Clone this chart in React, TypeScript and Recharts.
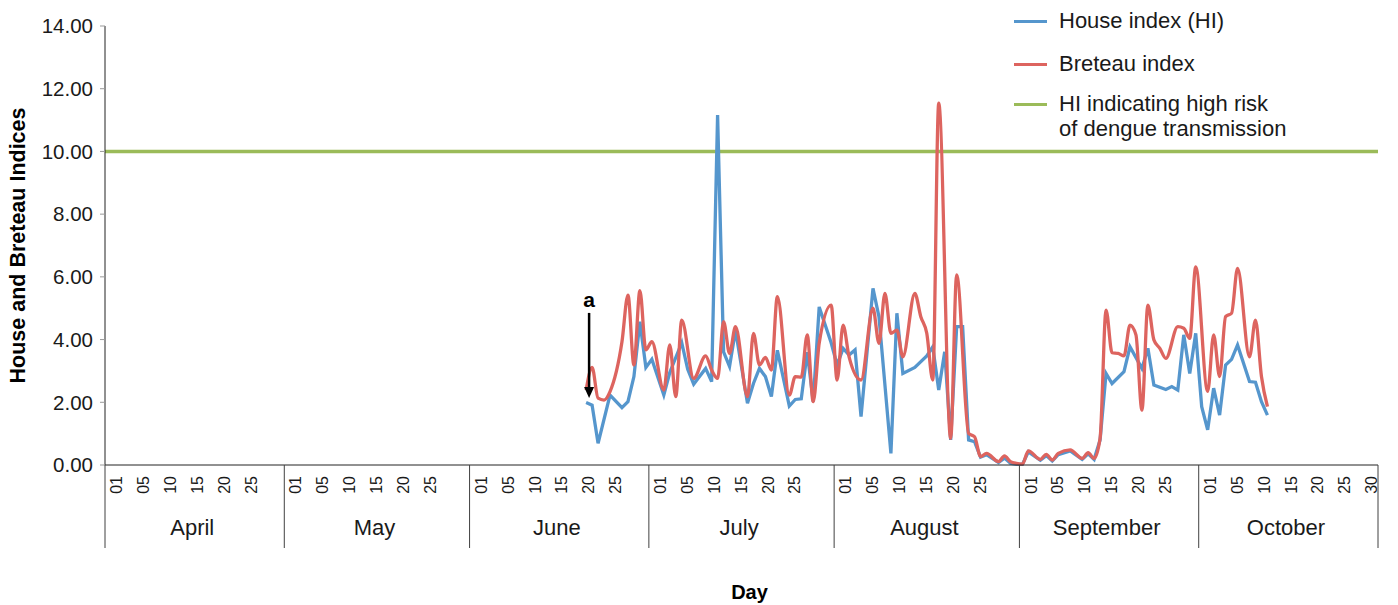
import { LineChart, Line, XAxis, YAxis, ReferenceLine, Legend } from 'recharts'

// season axis: April 01 .. October 30, one category per day
const months = ['April', 'May', 'June', 'July', 'August', 'September', 'October']
const monthLengths = [30, 31, 30, 31, 31, 30, 30]
const dayLabels = ['01', '05', '10', '15', '20', '25', '30']
const dayLabelCounts = [6, 6, 6, 6, 6, 6, 7]
const yTicks = [0, 2, 4, 6, 8, 10, 12, 14]
const highRiskHI = 10

// survey dates (MM-DD) and the two indices
const sampleDates = [
  '06-20', '06-21', '06-22', '06-23', '06-24', '06-26', '06-27', '06-28', '06-29', '06-30',
  '07-01', '07-03', '07-04', '07-05', '07-06', '07-07', '07-08', '07-10', '07-11', '07-12',
  '07-13', '07-14', '07-15', '07-17', '07-18', '07-19', '07-20', '07-21', '07-22', '07-24',
  '07-25', '07-26', '07-27', '07-28', '07-29', '07-31', '08-01', '08-02', '08-03', '08-04',
  '08-05', '08-07', '08-08', '08-09', '08-10', '08-11', '08-12', '08-14', '08-15', '08-16',
  '08-17', '08-18', '08-19', '08-20', '08-21', '08-22', '08-23', '08-24', '08-25', '08-26',
  '08-28', '08-29', '08-30', '08-31', '09-01', '09-02', '09-04', '09-05', '09-06', '09-07',
  '09-09', '09-11', '09-12', '09-13', '09-14', '09-15', '09-16', '09-17', '09-18', '09-19',
  '09-20', '09-21', '09-22', '09-23', '09-24', '09-25', '09-26', '09-27', '09-28', '09-29',
  '09-30', '10-01', '10-02', '10-03', '10-04', '10-05', '10-06', '10-07', '10-09', '10-10',
  '10-11', '10-12',
]

const houseIndex = [
  1.99, 1.91, 0.69, null, 2.23, 1.83, 2.02, 2.82, 4.57, 3.11,
  3.37, 2.23, 2.95, null, 3.9, 3.05, 2.58, 3.08, 2.66, 11.16,
  3.61, 3.14, 4.3, 1.97, 2.6, 3.08, 2.82, 2.18, 3.66, 1.88,
  2.09, 2.11, 3.6, 2.02, 5.04, 3.9, 3.19, 3.72, 3.51, 3.67,
  1.54, 5.63, 4.73, null, 0.37, 4.84, 2.92, 3.11, null, 3.48,
  3.77, 2.39, 3.61, 0.8, 4.41, 4.41, 0.8, 0.74, 0.25, 0.33,
  0.08, 0.22, 0.06, 0.02, 0.02, 0.42, 0.15, 0.3, 0.13, 0.33,
  0.45, 0.18, 0.36, 0.18, 0.8, 2.92, 2.6, null, 2.98, 3.77,
  null, 3.08, 3.72, 2.55, null, 2.41, 2.5, 2.39, 4.15, 2.92,
  4.2, 1.86, 1.12, 2.45, 1.59, 3.19, 3.37, 3.83, 2.66, 2.64,
  2.02, 1.59,
]

const breteauIndex = [
  2.39, 3.11, 2.13, 2.07, 2.34, 3.93, 5.42, 3.19, 5.56, 3.67,
  3.93, 2.39, 3.83, 2.18, 4.62, null, 2.76, 3.48, 3.03, 2.76,
  4.57, 3.56, 4.41, 2.18, 4.2, 3.19, 3.43, 3.03, 5.37, 2.23,
  2.82, 2.8, 4.15, 2.02, 3.88, 5.1, 2.71, 4.46, 3.45, null,
  2.71, 5.0, 3.88, 5.47, 4.2, 4.3, 3.45, 5.47, 4.73, 4.2,
  2.71, 11.54, null, 0.85, 6.06, null, 1.01, 0.9, 0.27, 0.37,
  0.11, 0.29, 0.11, 0.05, 0.03, 0.45, 0.18, 0.34, 0.16, 0.37,
  0.48, 0.21, 0.39, 0.21, 0.85, 4.94, 3.58, 3.56, 3.48, 4.46,
  4.15, 1.75, 5.1, 3.99, 3.72, 3.4, null, 4.41, 4.36, 4.04,
  6.32, null, 2.35, 4.15, 2.82, 4.73, 4.84, 6.27, 3.45, 4.62,
  2.82, 1.86,
]

const legendItems = [
  { lines: ['House index (HI)'], color: '#5596cd', top: 7 },
  { lines: ['Breteau index'], color: '#dd645f', top: 50 },
  { lines: ['HI indicating high risk', 'of dengue transmission'], color: '#9bbb59', top: 90 },
]

const FONT = '"Liberation Sans", Arial, sans-serif'
const BLUE = '#5596cd'
const RED = '#dd645f'
const GREEN = '#9bbb59'
const INK = '#1a1a1a'

const monthStarts = monthLengths.map((_, i) => monthLengths.slice(0, i).reduce((a, b) => a + b, 0))
const totalDays = monthLengths.reduce((a, b) => a + b, 0)

const dayPos = (date: string) => {
  const [m, d] = date.split('-').map(Number)
  return monthStarts[m - 4] + d - 0.5
}

const chartData = sampleDates.map((d, i) => ({
  x: dayPos(d),
  hi: houseIndex[i],
  bi: breteauIndex[i],
}))

// x ticks: month edges, month names and the evenly spread day labels
type TickInfo = { kind: 'edge' | 'month' | 'day'; text?: string }
const tickInfo = new Map<number, TickInfo>()
monthStarts.forEach((start, m) => {
  tickInfo.set(start, { kind: 'edge' })
  tickInfo.set(start + monthLengths[m] / 2 - 0.4, { kind: 'month', text: months[m] })
  for (let k = 0; k < dayLabelCounts[m]; k++) {
    tickInfo.set(start + 1.95 + 4.5 * k, { kind: 'day', text: dayLabels[k] })
  }
})
tickInfo.set(totalDays, { kind: 'edge' })
const xTicks = [...tickInfo.keys()].sort((a, b) => a - b)

function AxisTick(props: any) {
  const { x, y, payload } = props
  const info = tickInfo.get(payload.value)
  if (!info) return <g />
  if (info.kind === 'edge') {
    return <line x1={x} x2={x} y1={y} y2={y + 83} stroke="#404040" strokeWidth={1} />
  }
  if (info.kind === 'month') {
    return (
      <text x={x} y={y + 62} textAnchor="middle" dominantBaseline="central" fontSize={22} fill={INK}>
        {info.text}
      </text>
    )
  }
  return (
    <text
      transform={`translate(${x},${y + 11}) rotate(-90)`}
      textAnchor="end"
      dominantBaseline="central"
      fontSize={16}
      fill={INK}
    >
      {info.text}
    </text>
  )
}

const arrowX = dayPos('06-20') + 0.5

function ArrowShape(props: any) {
  const { x1, y1, x2, y2 } = props
  return (
    <g>
      <text x={x1} y={y1 - 13} textAnchor="middle" dominantBaseline="central" fontSize={21} fontWeight="bold" fill="#000">
        a
      </text>
      <line x1={x1} y1={y1} x2={x2} y2={y2 - 9} stroke="#000" strokeWidth={2.5} />
      <polygon points={`${x2 - 5},${y2 - 11} ${x2 + 5},${y2 - 11} ${x2},${y2}`} fill="#000" />
    </g>
  )
}

function LegendBox() {
  return (
    <div style={{ position: 'relative', width: 390, height: 145, fontFamily: FONT }}>
      {legendItems.map((item) => (
        <div key={item.lines[0]} style={{ position: 'absolute', left: 0, top: item.top }}>
          <div
            style={{ position: 'absolute', left: 4, top: 12, width: 33, height: 3, background: item.color }}
          />
          <div style={{ position: 'absolute', left: 49, top: 0, fontSize: 22, lineHeight: '25px', color: INK, whiteSpace: 'nowrap' }}>
            {item.lines.map((l) => (
              <div key={l}>{l}</div>
            ))}
          </div>
        </div>
      ))}
    </div>
  )
}

export default function App() {
  return (
    <div style={{ position: 'absolute', left: 0, top: 0, fontFamily: FONT }}>
      <LineChart
        width={1398}
        height={605}
        data={chartData}
        margin={{ top: 26, right: 20, bottom: 57, left: 0 }}
      >
        <XAxis
          type="number"
          dataKey="x"
          domain={[0, totalDays]}
          ticks={xTicks}
          interval={0}
          tickSize={0}
          tickMargin={0}
          tickLine={false}
          height={83}
          axisLine={{ stroke: '#222' }}
          tick={(p: any) => <AxisTick {...p} />}
          label={(p: any) => {
            const vb = p?.viewBox ?? { x: 105, y: 465, width: 1273 }
            return (
              <text
                x={vb.x + vb.width / 2 + 8}
                y={vb.y + 127}
                textAnchor="middle"
                dominantBaseline="central"
                fontSize={20}
                fontWeight="bold"
                fill="#000"
              >
                Day
              </text>
            )
          }}
        />
        <YAxis
          type="number"
          domain={[0, 14]}
          ticks={yTicks}
          width={105}
          tickSize={5}
          tickMargin={7}
          axisLine={{ stroke: '#222' }}
          tickLine={{ stroke: '#999' }}
          tick={{ fontSize: 20.5, fill: INK }}
          tickFormatter={(v: number) => v.toFixed(2)}
          label={(p: any) => {
            const vb = p?.viewBox ?? { x: 0, y: 26, width: 105, height: 439 }
            const cy = vb.y + vb.height / 2
            return (
              <text
                transform={`translate(18,${cy}) rotate(-90)`}
                textAnchor="middle"
                dominantBaseline="central"
                fontSize={21.5}
                fontWeight="bold"
                fill="#000"
              >
                House and Breteau Indices
              </text>
            )
          }}
        />
        <ReferenceLine y={highRiskHI} stroke={GREEN} strokeWidth={3.5} />
        <Line
          dataKey="hi"
          name="House index (HI)"
          type="linear"
          stroke={BLUE}
          strokeWidth={3.3}
          dot={false}
          connectNulls
          isAnimationActive={false}
        />
        <Line
          dataKey="bi"
          name="Breteau index"
          type="monotone"
          stroke={RED}
          strokeWidth={3.3}
          dot={false}
          connectNulls
          isAnimationActive={false}
        />
        <ReferenceLine
          segment={[
            { x: arrowX, y: 4.85 },
            { x: arrowX, y: 2.14 },
          ]}
          ifOverflow="visible"
          shape={(p: any) => <ArrowShape {...p} />}
        />
        <Legend
          layout="vertical"
          align="center"
          verticalAlign="middle"
          wrapperStyle={{ left: 1010, top: 1, width: 390, height: 145 }}
          content={() => <LegendBox />}
        />
      </LineChart>
    </div>
  )
}
